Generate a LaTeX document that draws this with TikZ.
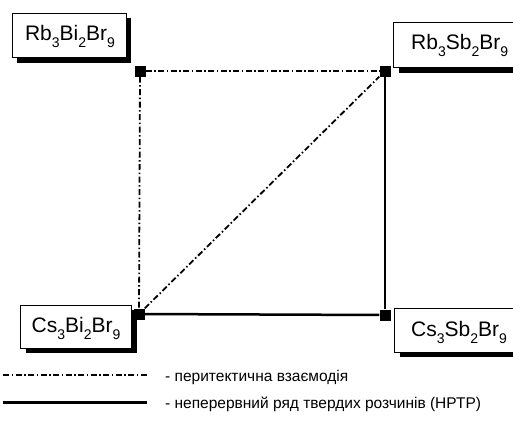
\documentclass[tikz,border=0pt]{standalone}
\usepackage{fontspec}
\setmainfont{Liberation Sans}
\newcommand{\sbs}[1]{\raisebox{-7pt}{\fontsize{14}{14}\selectfont #1}}
\tikzset{
  marker/.style={fill=black, draw=none, minimum size=11pt, inner sep=0pt},
  peri/.style={line width=1.8pt, dash pattern=on 6pt off 2.5pt on 1.5pt off 2.5pt},
  nrtr/.style={line width=2.5pt},
  formula/.style={font=\fontsize{21}{21}\selectfont, inner sep=0pt},
  legtext/.style={anchor=west, font=\fontsize{15.5}{15.5}\selectfont, inner sep=0pt}
}
\begin{document}
\begin{tikzpicture}[x=1pt,y=-1pt]
\useasboundingbox (0,0) rectangle (513,424);
% shadows
\fill (17,18) rectangle (131,63);
\fill (399,28) rectangle (520,73);
\fill (26,310) rectangle (137,353);
\fill (400,313) rectangle (520,357);
% boxes
\draw[line width=0.6pt, fill=white] (12,13) rectangle (126,57);
\draw[line width=0.6pt, fill=white] (393,22) rectangle (520,67);
\draw[line width=0.6pt, fill=white] (20,305) rectangle (131,348);
\draw[line width=0.6pt, fill=white] (394,308) rectangle (520,352);
\node[formula, anchor=base] (rbbi) at (70,40) {Rb\sbs{3}Bi\sbs{2}Br\sbs{9}};
\node[formula, anchor=base west] (rbsb) at (411,49) {Rb\sbs{3}Sb\sbs{2}Br\sbs{9}};
\node[formula, anchor=base] (csbi) at (76,332) {Cs\sbs{3}Bi\sbs{2}Br\sbs{9}};
\node[formula, anchor=base west] (cssb) at (411,336) {Cs\sbs{3}Sb\sbs{2}Br\sbs{9}};
% corner markers
\node[marker] (a) at (140,71) {};
\node[marker] (b) at (385,71) {};
\node[marker] (c) at (139,314) {};
\node[marker] (d) at (385,315) {};
% connectors
\draw[peri] (a) -- (b);
\draw[peri] (a) -- (c);
\draw[peri] (c) -- (b);
\draw[nrtr] (b) -- (d);
\draw[nrtr] (c) -- (d);
% legend
\coordinate (l1a) at (3,375);
\coordinate (l1b) at (147,375);
\coordinate (l2a) at (3,402);
\coordinate (l2b) at (147,402);
\draw[peri, line width=1.6pt] (l1a) -- (l1b);
\draw[nrtr, line width=3pt] (l2a) -- (l2b);
\node[legtext] (t1) at (165,377) {- перитектична взаємодія};
\node[legtext] (t2) at (165,404) {- неперервний ряд твердих розчинів (НРТР)};
\end{tikzpicture}
\end{document}
